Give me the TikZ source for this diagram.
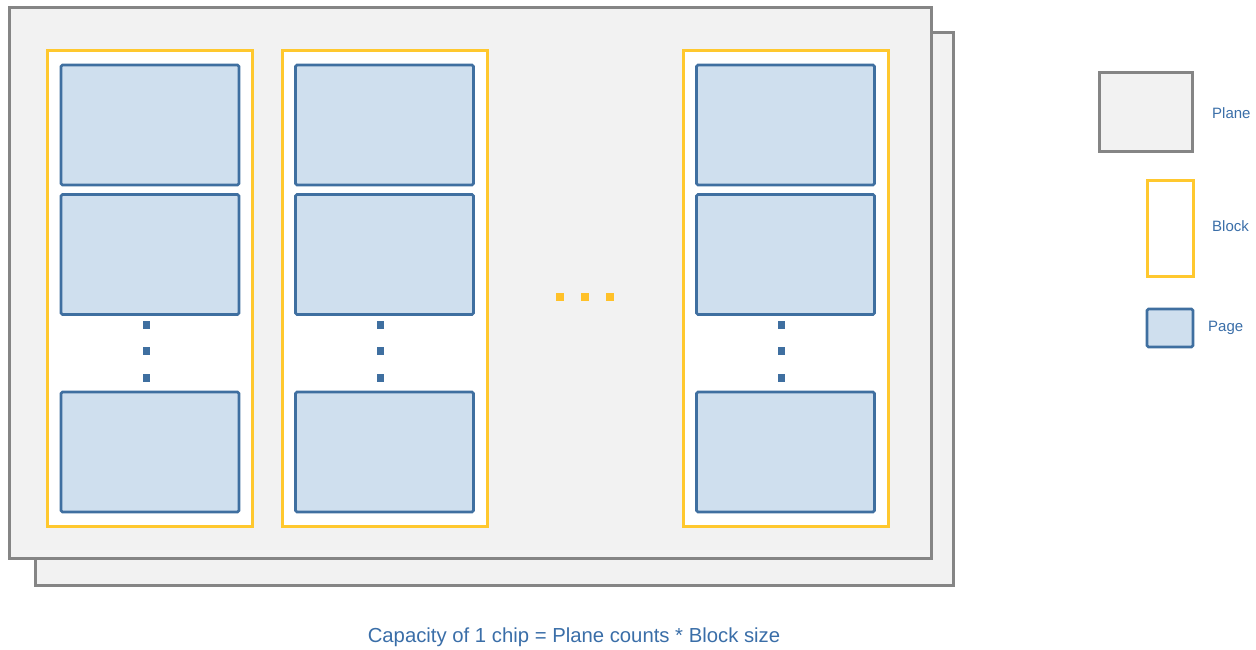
\documentclass[tikz,border=0pt]{standalone}
\usepackage{fontspec}
\setmainfont{Liberation Sans}
\usetikzlibrary{positioning}
\definecolor{planefill}{HTML}{F2F2F2}
\definecolor{planeline}{HTML}{858585}
\definecolor{blockline}{HTML}{FFC82E}
\definecolor{pagefill}{HTML}{CFDFEE}
\definecolor{pageline}{HTML}{3F6FA0}
\definecolor{labeltext}{HTML}{3A6EA8}
\tikzset{
	plane/.style={draw=planeline, rectangle, line width=3pt, fill=planefill, inner sep=0pt},
	block/.style={draw=blockline, rectangle, line width=3pt, fill=white, inner sep=0pt, minimum width=205pt, minimum height=475pt},
	page/.style={draw=pageline, rectangle, rounded corners=1.5pt, line width=2.8pt, fill=pagefill, inner sep=0pt, minimum width=178pt, minimum height=120pt},
	% small squares standing for the skipped pages / blocks
	pdot/.style={rectangle, fill=pageline, inner sep=0pt, minimum width=7pt, minimum height=8pt},
	bdot/.style={rectangle, fill=blockline!90!orange, inner sep=0pt, minimum size=8pt},
	legendtext/.style={anchor=west, inner sep=0pt, text=labeltext, font=\fontsize{15}{17}\selectfont},
}
\begin{document}
\begin{tikzpicture}[x=1pt, y=-1pt]
	\useasboundingbox (0,0) rectangle (1256,650);

	% two planes, one behind the other
	\node (plane2) [plane, minimum width=918pt, minimum height=552pt] at (494,309) {};
	\node (plane1) [plane, minimum width=922pt, minimum height=550pt] at (470,283) {};

	% blocks
	\node (blk1) [block] at (149.5,288.5) {};
	\node (blk2) [block] at (384.5,288.5) {};
	\node (blkn) [block] at (785.5,288.5) {};

	% pages of each block
	\node (p11) [page] at (150,125) {};
	\node (p12) [page] at (150,254.5) {};
	\node (p1n) [page] at (150,452) {};

	\node (p21) [page] at (384.5,125) {};
	\node (p22) [page] at (384.5,254.5) {};
	\node (p2n) [page] at (384.5,452) {};

	\node (pn1) [page] at (785.5,125) {};
	\node (pn2) [page] at (785.5,254.5) {};
	\node (pnn) [page] at (785.5,452) {};

	\node (d11) [pdot] at (146,325) {};
	\node (d12) [pdot] at (146,351) {};
	\node (d13) [pdot] at (146,378) {};
	\node (d21) [pdot] at (380,325) {};
	\node (d22) [pdot] at (380,351) {};
	\node (d23) [pdot] at (380,378) {};
	\node (dn1) [pdot] at (781,325) {};
	\node (dn2) [pdot] at (781,351) {};
	\node (dn3) [pdot] at (781,378) {};

	\node (b1) [bdot] at (560,297) {};
	\node (b2) [bdot] at (585,297) {};
	\node (b3) [bdot] at (610,297) {};

	% legend
	\node (lplane) [plane, minimum width=93pt, minimum height=79pt] at (1145.5,112.5) {};
	\node (lblock) [block, minimum width=46pt, minimum height=95pt] at (1170,228.5) {};
	\node (lpage) [page, minimum width=46pt, minimum height=38pt] at (1170,328) {};
	\node (tplane) [legendtext] at (1212,113) {Plane};
	\node (tblock) [legendtext] at (1212,226) {Block};
	\node (tpage) [legendtext] at (1208,328) {Page};

	\node (cap) [text=labeltext, font=\fontsize{20.3}{24}\selectfont] at (574,637) {Capacity of 1 chip = Plane counts * Block size};

\end{tikzpicture}
\end{document}
